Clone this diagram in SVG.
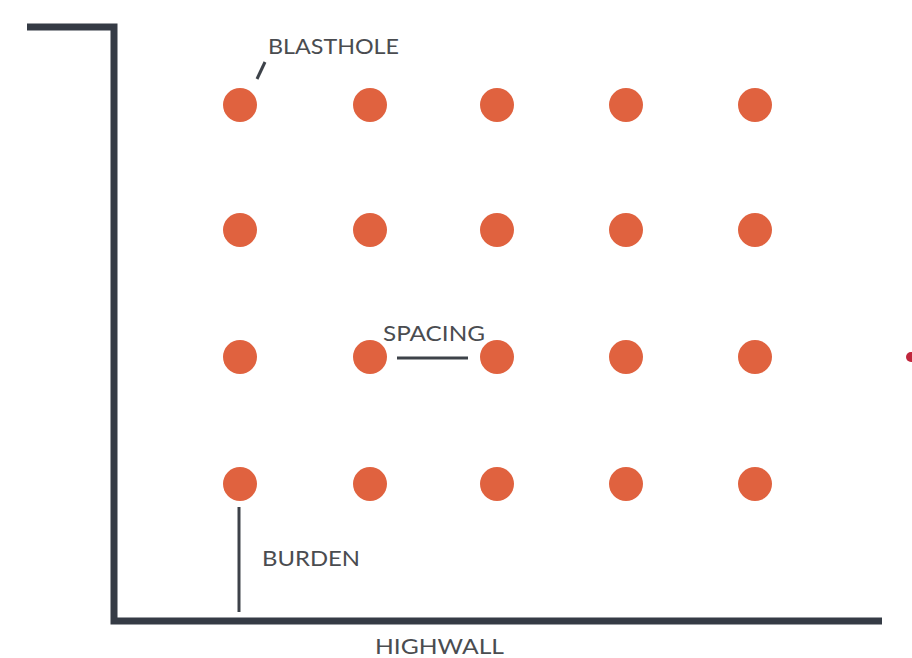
<svg xmlns="http://www.w3.org/2000/svg" width="912" height="658" viewBox="0 0 912 658">
<style>
.wall{fill:none;stroke:#353b45;stroke-width:7}
.hole{fill:#e0623f}
.lead{stroke:#3d4249;stroke-width:3;fill:none}
.lbl{font-family:Lato,"Open Sans",sans-serif;font-size:22px;fill:#4a4c50}
</style>
<rect width="912" height="658" fill="#ffffff"/>
<g id="wall">
<polyline class="wall" points="27,27 114,27 114,621 882,621"/>
</g>
<g id="holes">
<circle class="hole" cx="240" cy="105" r="17"/><circle class="hole" cx="370" cy="105" r="17"/><circle class="hole" cx="497" cy="105" r="17"/><circle class="hole" cx="626" cy="105" r="17"/><circle class="hole" cx="755" cy="105" r="17"/>
<circle class="hole" cx="240" cy="230" r="17"/><circle class="hole" cx="370" cy="230" r="17"/><circle class="hole" cx="497" cy="230" r="17"/><circle class="hole" cx="626" cy="230" r="17"/><circle class="hole" cx="755" cy="230" r="17"/>
<circle class="hole" cx="240" cy="357" r="17"/><circle class="hole" cx="370" cy="357" r="17"/><circle class="hole" cx="497" cy="357" r="17"/><circle class="hole" cx="626" cy="357" r="17"/><circle class="hole" cx="755" cy="357" r="17"/>
<circle class="hole" cx="240" cy="484" r="17"/><circle class="hole" cx="370" cy="484" r="17"/><circle class="hole" cx="497" cy="484" r="17"/><circle class="hole" cx="626" cy="484" r="17"/><circle class="hole" cx="755" cy="484" r="17"/>
</g>
<circle cx="911" cy="357" r="5" fill="#c0263c"/>
<g id="connectors">
<line class="lead" x1="257" y1="79" x2="265" y2="62"/>
<line class="lead" x1="397" y1="358" x2="468" y2="358"/>
<line class="lead" x1="239" y1="507" x2="239" y2="612"/>
</g>
<g id="labels">
<text class="lbl" x="268" y="54" textLength="131" lengthAdjust="spacingAndGlyphs">BLASTHOLE</text>
<text class="lbl" x="383" y="341" textLength="102" lengthAdjust="spacingAndGlyphs">SPACING</text>
<text class="lbl" x="262" y="566" textLength="98" lengthAdjust="spacingAndGlyphs">BURDEN</text>
<text class="lbl" x="375" y="654" textLength="129" lengthAdjust="spacingAndGlyphs">HIGHWALL</text>
</g>
</svg>
